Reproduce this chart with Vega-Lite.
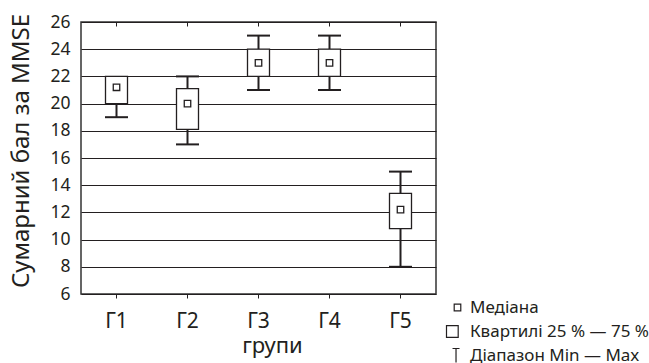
{
  "$schema": "https://vega.github.io/schema/vega-lite/v6.json",
  "width": 355,
  "height": 272,
  "autosize": {"type": "none"},
  "padding": {"left": 81, "top": 22, "right": 213, "bottom": 69},
  "background": "white",
  "config": {
    "font": "Noto Sans",
    "view": {"stroke": "#333333", "strokeWidth": 1.5},
    "axis": {"labelColor": "#231f20", "titleColor": "#231f20", "titleFontWeight": "normal", "labelFont": "Noto Sans", "titleFont": "Noto Sans"},
    "axisY": {
      "tickCount": 10,
      "grid": true,
      "gridColor": "#231f20",
      "gridWidth": 1,
      "gridOpacity": 1,
      "ticks": false,
      "tickSize": 0,
      "domain": false,
      "labelFontSize": 17.5,
      "labelPadding": 11,
      "labelOverlap": false,
      "labelFlush": false,
      "titleFontSize": 24,
      "titleX": -52.7,
      "titleY": 128.5,
      "titleBaseline": "alphabetic",
      "titleAlign": "center"
    }
  },
  "data": {
    "values": [
      {"group": "Г1", "min": 19, "q1": 20, "median": 21.2, "q3": 22, "max": 22},
      {"group": "Г2", "min": 17, "q1": 18.1, "median": 20, "q3": 21.1, "max": 22},
      {"group": "Г3", "min": 21, "q1": 22, "median": 23, "q3": 24, "max": 25},
      {"group": "Г4", "min": 21, "q1": 22, "median": 23, "q3": 24, "max": 25},
      {"group": "Г5", "min": 8, "q1": 10.8, "median": 12.2, "q3": 13.4, "max": 15}
    ]
  },
  "layer": [
    {
      "encoding": {
        "x": {
          "field": "group",
          "type": "nominal",
          "scale": {"paddingInner": 0, "paddingOuter": 0},
          "axis": {
            "orient": "bottom",
            "labelAngle": 0,
            "labelFontSize": 21,
            "labelBaseline": "alphabetic",
            "labelPadding": 29,
            "tickSize": 4,
            "tickColor": "#231f20",
            "domain": false,
            "grid": false,
            "title": "групи",
            "titleFontSize": 22,
            "titleX": 191,
            "titleY": 58,
            "titleBaseline": "alphabetic"
          }
        }
      },
      "layer": [
        {
          "mark": {"type": "rule", "strokeWidth": 2, "color": "#231f20"},
          "encoding": {
            "y": {
              "field": "min",
              "type": "quantitative",
              "title": "Сумарний бал за MMSE",
              "scale": {"domain": [6, 26], "nice": false, "zero": false}
            },
            "y2": {"field": "max"}
          }
        },
        {
          "mark": {"type": "bar", "width": 22, "fill": "white", "stroke": "#231f20", "strokeWidth": 1.3},
          "encoding": {
            "y": {"field": "q1", "type": "quantitative", "title": "Сумарний бал за MMSE"},
            "y2": {"field": "q3"}
          }
        },
        {
          "mark": {"type": "tick", "size": 23, "thickness": 2, "color": "#231f20", "opacity": 1},
          "encoding": {
            "y": {"field": "min", "type": "quantitative", "title": "Сумарний бал за MMSE"}
          }
        },
        {
          "transform": [{"filter": "datum.max > datum.q3"}],
          "mark": {"type": "tick", "size": 23, "thickness": 2, "color": "#231f20", "opacity": 1},
          "encoding": {
            "y": {"field": "max", "type": "quantitative", "title": "Сумарний бал за MMSE"}
          }
        },
        {
          "mark": {"type": "point", "shape": "square", "size": 42, "filled": true, "fill": "white", "stroke": "#231f20", "strokeWidth": 1.3, "opacity": 1},
          "encoding": {
            "y": {"field": "median", "type": "quantitative", "title": "Сумарний бал за MMSE"}
          }
        }
      ]
    },
    {
      "mark": {"type": "tick", "opacity": 0},
      "encoding": {
        "x": {
          "field": "group",
          "type": "nominal",
          "axis": {
            "orient": "top",
            "labels": false,
            "domain": false,
            "grid": false,
            "title": null,
            "ticks": true,
            "tickSize": -4,
            "tickColor": "#231f20",
            "tickWidth": 1
          }
        },
        "y": {"field": "min", "type": "quantitative", "title": "Сумарний бал за MMSE"}
      }
    },
    {
      "data": {
        "values": [
          {"item": "Медіана"},
          {"item": "Квартилі 25 % — 75 %"},
          {"item": "Діапазон Min — Max"}
        ]
      },
      "mark": {"type": "point", "filled": false, "stroke": "#231f20", "opacity": 0},
      "encoding": {
        "shape": {
          "field": "item",
          "type": "nominal",
          "scale": {
            "domain": ["Медіана", "Квартилі 25 % — 75 %", "Діапазон Min — Max"],
            "range": [
              "M0.1,-0.47H1.04V0.47H0.1Z",
              "M-1,-0.83H0.67V0.83H-1Z",
              "M-0.14,-1H0.86M0.36,-1V1"
            ]
          },
          "legend": {
            "title": null,
            "orient": "none",
            "legendX": 364,
            "legendY": 277,
            "labelFontSize": 17,
            "labelLimit": 400,
            "labelColor": "#231f20",
            "labelFont": "Noto Sans",
            "symbolSize": 196,
            "symbolStrokeColor": "#231f20",
            "symbolStrokeWidth": 1.2,
            "symbolFillColor": "transparent",
            "symbolOpacity": 1,
            "labelOffset": 8,
            "rowPadding": 6,
            "padding": 0,
            "offset": 0
          }
        }
      }
    }
  ],
  "resolve": {"axis": {"x": "independent"}}
}
